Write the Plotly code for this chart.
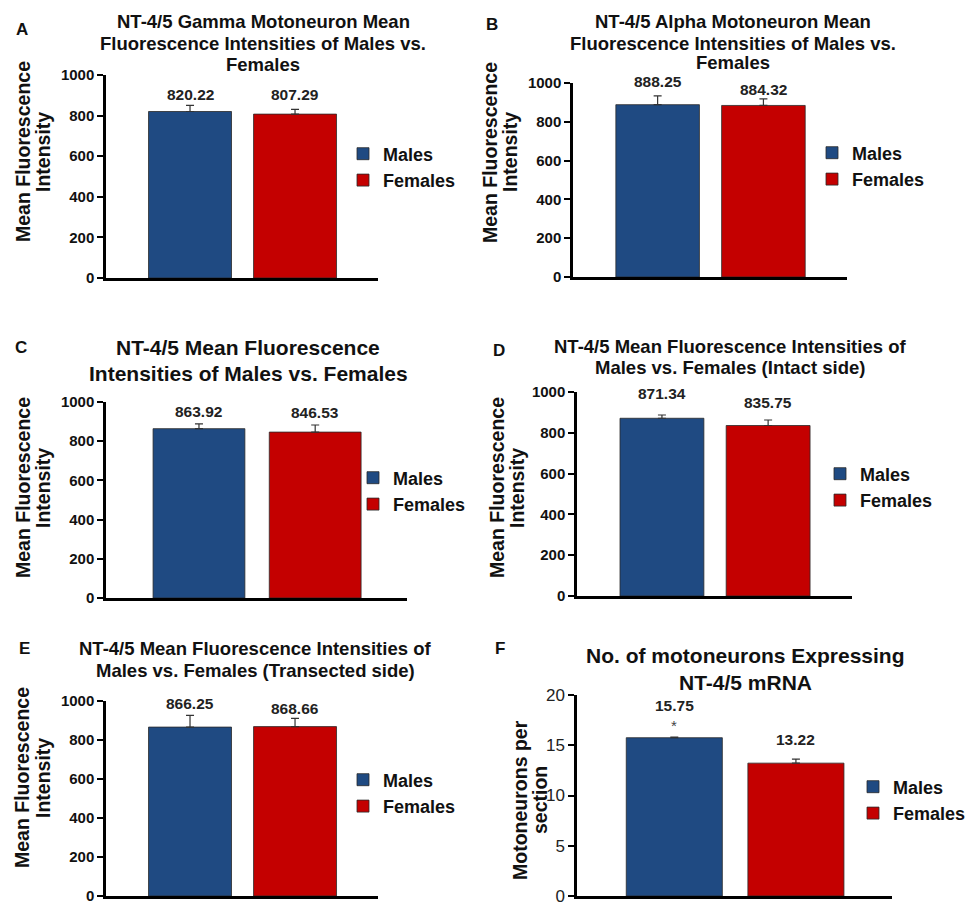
import plotly.graph_objects as go

W, H = 971, 907

# ---------------- data ----------------
groups = ["Males", "Females"]

titles = [
    ["NT-4/5 Gamma Motoneuron Mean", "Fluorescence Intensities of Males vs.", "Females"],
    ["NT-4/5 Alpha Motoneuron Mean", "Fluorescence Intensities of Males vs.", "Females"],
    ["NT-4/5 Mean Fluorescence", "Intensities of Males vs. Females"],
    ["NT-4/5 Mean Fluorescence Intensities of", "Males vs. Females (Intact side)"],
    ["NT-4/5 Mean Fluorescence Intensities of", "Males vs. Females (Transected side)"],
    ["No. of motoneurons Expressing", "NT-4/5 mRNA"],
]
panel_letters = ["A", "B", "C", "D", "E", "F"]
y_titles = [["Mean Fluorescence", "Intensity"]] * 5 + [["Motoneurons per", "section"]]

males_A, females_A = 820.22, 807.29
males_B, females_B = 888.25, 884.32
males_C, females_C = 863.92, 846.53
males_D, females_D = 871.34, 835.75
males_E, females_E = 866.25, 868.66
males_F, females_F = 15.75, 13.22

err_males = [30, 45, 24, 16, 60, 0.05]
err_females = [23, 34, 36, 27, 42, 0.4]

males = [males_A, males_B, males_C, males_D, males_E, males_F]
females = [females_A, females_B, females_C, females_D, females_E, females_F]

y_max = [1000, 1000, 1000, 1000, 1000, 20]
y_dtick = [200, 200, 200, 200, 200, 5]
significance = ["", "", "", "", "", "*"]

# ---------------- layout (pixels) ----------------
# plot area: (x_left, x_right, y_top, y_bottom)
plot_px = [
    (106, 378, 75, 278),
    (573, 847, 83, 277),
    (106, 407, 402, 598),
    (577, 852, 392, 596),
    (106, 378, 701, 896),
    (577, 892, 695, 896),
]
# title: (center x, [line y...], font size)
title_px = [
    (263, [22, 43, 64], 18.5),
    (733, [22, 43, 63], 18.5),
    (248, [348, 373], 21),
    (730, [346, 368], 18.5),
    (255, [648, 670], 18.5),
    (745, [655, 682], 21),
]
letter_px = [(22, 30), (492, 25), (21, 348), (499, 350), (24, 648), (500, 648)]
# y title: ([line x...], center y)
ytitle_px = [
    ([23, 43], 152), ([490, 510], 152), ([23, 43], 488),
    ([497, 517], 488), ([22, 43], 778), ([520, 540], 800),
]
# legend text start x, legend center y
legend_px = [(383, 167), (852, 166), (393, 491), (860, 487), (383, 793), (893, 800)]
label_shift = [(0, 4), (3.5, -1.5), (1.5, 2.5), (10.5, 7.5), (1.5, -0.5), (21.5, 9.5)]

BLUE = "#1F4A82"
RED = "#C40000"
FONT = "Liberation Sans, Arial, sans-serif"
TXT = "#111111"

fig = go.Figure()
annotations = []
layout_updates = {}


def px_x(v):
    return v / W


def px_y(v):
    return 1 - v / H


for i in range(6):
    n = "" if i == 0 else str(i + 1)
    xa, ya = "x" + n, "y" + n
    leg = "legend" + n
    for g, val, err, col in [
        (groups[0], males[i], err_males[i], BLUE),
        (groups[1], females[i], err_females[i], RED),
    ]:
        fig.add_trace(go.Bar(
            x=[g], y=[val], name=g, xaxis=xa, yaxis=ya, legend=leg,
            width=0.79,
            marker=dict(color=col, line=dict(color="#2a2a2a", width=0.8)),
            error_y=dict(type="data", array=[err], arrayminus=[0], symmetric=False,
                         color="#333333", thickness=1.2, width=4),
            hoverinfo="y",
        ))
    x0, x1, yt, yb = plot_px[i]
    if i == 5:
        tickfont = dict(family=FONT, size=17, color="#222222", weight="normal")
    else:
        tickfont = dict(family=FONT, size=15, color=TXT, weight="bold")
    layout_updates["xaxis" + n] = dict(
        domain=[px_x(x0), px_x(x1)], anchor=ya, type="category",
        categoryorder="array", categoryarray=groups,
        range=[-0.8, 1.79], showticklabels=False, ticks="",
        showline=True, linecolor="black", linewidth=2.5, showgrid=False, zeroline=False,
        fixedrange=True, automargin=False,
    )
    layout_updates["yaxis" + n] = dict(
        domain=[px_y(yb), px_y(yt)], anchor=xa,
        range=[0, y_max[i]], dtick=y_dtick[i], tick0=0,
        showline=True, linecolor="black", linewidth=2.5, ticks="outside",
        ticklen=6, tickwidth=2, tickcolor="black", showgrid=False, zeroline=False,
        tickfont=tickfont, fixedrange=True, automargin=False,
        ticklabeloverflow="allow",
    )
    lx, ly = legend_px[i]
    layout_updates[leg] = dict(
        x=px_x(lx - 40), y=px_y(ly), xanchor="left", yanchor="middle",
        xref="container", yref="container",
        font=dict(family=FONT, size=18, color=TXT, weight="bold"),
        bgcolor="rgba(0,0,0,0)", tracegroupgap=0, itemclick=False, itemdoubleclick=False,
    )
    # value labels
    for k, (g, val, err) in enumerate([(groups[0], males[i], err_males[i]),
                                      (groups[1], females[i], err_females[i])]):
        annotations.append(dict(
            x=g, y=val + err, xref=xa, yref=ya, text=f"{val:.2f}",
            showarrow=False, yanchor="bottom", yshift=label_shift[i][k],
            font=dict(family=FONT, size=15.5, color="#222222", weight="bold"),
        ))
    if significance[i]:
        annotations.append(dict(
            x=groups[0], y=males[i] + err_males[i], xref=xa, yref=ya,
            text=significance[i], showarrow=False, yanchor="middle", yshift=12,
            font=dict(family=FONT, size=15, color="#444444"),
        ))
    # title lines
    tx, tys, ts = title_px[i]
    for line, ty in zip(titles[i], tys):
        annotations.append(dict(
            x=px_x(tx), y=px_y(ty), xref="paper", yref="paper", text=line,
            showarrow=False, xanchor="center", yanchor="middle",
            font=dict(family=FONT, size=ts, color=TXT, weight="bold"),
        ))
    # panel letter
    lpx, lpy = letter_px[i]
    annotations.append(dict(
        x=px_x(lpx), y=px_y(lpy), xref="paper", yref="paper", text=panel_letters[i],
        showarrow=False, xanchor="center", yanchor="middle",
        font=dict(family=FONT, size=17, color=TXT, weight="bold"),
    ))
    # y-axis title lines
    axs, ay = ytitle_px[i]
    for line, ax in zip(y_titles[i], axs):
        annotations.append(dict(
            x=px_x(ax), y=px_y(ay), xref="paper", yref="paper", text=line,
            showarrow=False, xanchor="center", yanchor="middle", textangle=-90,
            font=dict(family=FONT, size=19.5, color=TXT, weight="bold"),
        ))

fig.update_layout(
    template="none",
    width=W, height=H, margin=dict(l=0, r=0, t=0, b=0, autoexpand=False),
    paper_bgcolor="white", plot_bgcolor="white",
    barmode="overlay", showlegend=True,
    annotations=annotations,
    font=dict(family=FONT),
    **layout_updates,
)

fig.write_html(
    "out.html",
    config={"displayModeBar": False},
    post_script="document.body.style.margin='0px';document.body.style.overflow='hidden';",
)
